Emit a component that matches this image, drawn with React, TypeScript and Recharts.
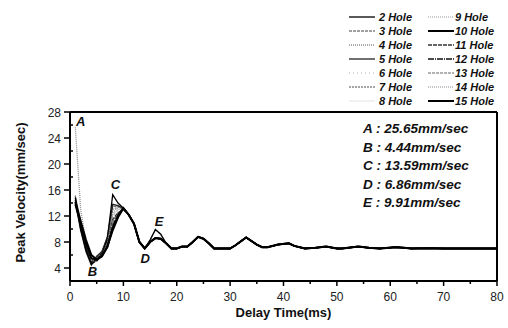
import { LineChart, Line, XAxis, YAxis, ReferenceDot } from 'recharts';

// delay time (ms) sample points
const X_EARLY = [1, 2, 3, 4, 5, 6, 7, 8, 9, 10];
const X_MID = [11, 12, 13, 14, 15, 16, 17];
const X_TAIL = [18, 19, 20, 21, 22, 23, 24, 25, 26, 27, 28, 30, 31, 33, 35, 36, 37, 39, 41, 42, 44, 46, 48, 50, 51, 54, 56, 58, 61, 62, 64, 67, 70, 75, 80];

// peak velocity (mm/sec), first 10 ms per hole count
const H2 = [14.8, 10.0, 6.8, 4.6, 5.2, 6.2, 8.5, 15.3, 14.0, 13.2];
const H3 = [15.0, 10.5, 7.0, 4.8, 5.6, 6.3, 8.0, 13.5, 13.5, 13.1];
const H4 = [25.65, 13.0, 8.0, 5.2, 5.0, 6.0, 7.8, 12.5, 13.3, 13.1];
const H5 = [14.2, 9.8, 6.5, 4.44, 5.8, 6.5, 8.8, 13.8, 13.6, 13.1];
const H6 = [15.2, 11.0, 7.2, 4.9, 5.4, 6.2, 8.2, 12.0, 12.8, 13.0];
const H7 = [14.5, 10.2, 6.9, 4.6, 5.5, 6.4, 8.3, 13.0, 13.4, 13.1];
const H8 = [14.0, 10.0, 6.6, 4.7, 5.6, 6.3, 8.0, 12.0, 12.9, 13.0];
const H9 = [15.0, 11.2, 7.4, 5.0, 5.2, 6.0, 7.9, 12.2, 13.0, 13.1];
const H10 = [14.2, 11.2, 8.3, 6.0, 5.3, 5.8, 7.3, 9.8, 11.8, 13.2];
const H11 = [14.0, 10.4, 7.0, 4.8, 5.7, 6.6, 8.6, 11.5, 12.5, 13.0];
const H12 = [14.5, 10.6, 7.2, 5.0, 5.3, 6.0, 7.6, 10.5, 12.2, 13.1];
const H13 = [14.8, 10.8, 7.5, 5.2, 5.2, 5.9, 7.5, 11.0, 12.4, 13.1];
const H14 = [15.1, 11.3, 7.8, 5.4, 5.1, 5.8, 7.4, 11.2, 12.5, 13.0];
const H15 = [13.8, 10.8, 7.8, 5.5, 5.2, 5.9, 7.2, 10.2, 12.0, 13.2];

// 11..17 ms: common shape, and the one with the E peak
const MID_BASE = [12.2, 10.8, 8.0, 7.0, 8.0, 8.6, 8.5];
const MID_E = [12.2, 10.8, 8.0, 7.0, 8.3, 9.91, 9.2];

// 18..80 ms, shared by all
const TAIL = [7.8, 7.0, 7.0, 7.3, 7.3, 8.0, 8.8, 8.5, 7.8, 7.0, 7.0, 7.0, 7.5, 8.7, 7.6, 7.2, 7.2, 7.6, 7.8, 7.4, 7.0, 7.1, 7.3, 7.0, 7.0, 7.3, 7.1, 7.0, 7.2, 7.15, 7.0, 7.05, 7.0, 7.0, 7.0];

const NOTES = ['A : 25.65mm/sec', 'B : 4.44mm/sec', 'C : 13.59mm/sec', 'D : 6.86mm/sec', 'E : 9.91mm/sec'];
const MARKS = [
  { id: 'A', x: 2.0, y: 26.6 },
  { id: 'B', x: 4.2, y: 3.45 },
  { id: 'C', x: 8.5, y: 16.8 },
  { id: 'D', x: 14.1, y: 5.5 },
  { id: 'E', x: 16.7, y: 11.2 },
];

const X_TICKS = [0, 5, 10, 15, 20, 25, 30, 35, 40, 45, 50, 55, 60, 65, 70, 75, 80];
const Y_TICKS = [2, 4, 6, 8, 10, 12, 14, 16, 18, 20, 22, 24, 26, 28];

const SERIES = [
  { name: '2 Hole', early: H2, mid: MID_E, stroke: '#000', w: 1.3, dash: undefined },
  { name: '3 Hole', early: H3, mid: MID_BASE, stroke: '#444', w: 1.2, dash: '3 1' },
  { name: '4 Hole', early: H4, mid: MID_BASE, stroke: '#8c8c8c', w: 1.3, dash: '1 1' },
  { name: '5 Hole', early: H5, mid: MID_BASE, stroke: '#222', w: 1.3, dash: undefined },
  { name: '6 Hole', early: H6, mid: MID_BASE, stroke: '#aaa', w: 1, dash: '1 3' },
  { name: '7 Hole', early: H7, mid: MID_E, stroke: '#888', w: 1.3, dash: '2 1' },
  { name: '8 Hole', early: H8, mid: MID_BASE, stroke: '#e4e4e4', w: 1, dash: undefined },
  { name: '9 Hole', early: H9, mid: MID_BASE, stroke: '#999', w: 1, dash: '1 1' },
  { name: '10 Hole', early: H10, mid: MID_BASE, stroke: '#000', w: 2, dash: undefined },
  { name: '11 Hole', early: H11, mid: MID_BASE, stroke: '#333', w: 1.3, dash: '4 1' },
  { name: '12 Hole', early: H12, mid: MID_BASE, stroke: '#111', w: 1.3, dash: '6 1 1 1' },
  { name: '13 Hole', early: H13, mid: MID_BASE, stroke: '#666', w: 1.2, dash: '3 1' },
  { name: '14 Hole', early: H14, mid: MID_BASE, stroke: '#888', w: 1.2, dash: '1 1' },
  { name: '15 Hole', early: H15, mid: MID_BASE, stroke: '#000', w: 2, dash: undefined },
];

// light lines first, heavy black ones on top
const DRAW_ORDER = [6, 4, 7, 12, 5, 11, 1, 10, 3, 9, 0, 2, 13, 8];

function buildData(early: number[], mid: number[]) {
  return [
    ...X_EARLY.map((x, i) => ({ x, y: early[i] })),
    ...X_MID.map((x, i) => ({ x, y: mid[i] })),
    ...X_TAIL.map((x, i) => ({ x, y: TAIL[i] })),
  ];
}

const FONT = '"Liberation Sans", Arial, sans-serif';
const AXIS_LINE = { stroke: '#000', strokeWidth: 2 };

function BottomTick({ x, y, payload }: any) {
  const v = payload.value;
  const major = v % 10 === 0;
  return (
    <g>
      <line x1={x} x2={x} y1={y} y2={y + (major ? 5 : 3)} stroke="#000" strokeWidth={1.5} />
      {major && (
        <text x={x} y={y + 19.5} textAnchor="middle" fontSize={12} fill="#222">{v}</text>
      )}
    </g>
  );
}

function TopTick({ x, y, payload }: any) {
  const major = payload.value % 10 === 0;
  return <line x1={x} x2={x} y1={y} y2={y + (major ? 5 : 3)} stroke="#000" strokeWidth={1.5} />;
}

function LeftTick({ x, y, payload }: any) {
  const v = payload.value;
  const major = v % 4 === 0;
  return (
    <g>
      {major
        ? <line x1={x - 6} x2={x} y1={y} y2={y} stroke="#000" strokeWidth={1.5} />
        : <line x1={x} x2={x + 3} y1={y} y2={y} stroke="#000" strokeWidth={1.5} />}
      {major && (
        <text x={x - 9} y={y + 4.5} textAnchor="end" fontSize={12} fill="#222">{v}</text>
      )}
    </g>
  );
}

function RightTick({ x, y, payload }: any) {
  const major = payload.value % 4 === 0;
  return <line x1={x - (major ? 6 : 3)} x2={x} y1={y} y2={y} stroke="#000" strokeWidth={1.5} />;
}

function YTitle({ viewBox }: any) {
  const cy = viewBox.y + viewBox.height / 2 - 4;
  return (
    <text x={20} y={cy} transform={`rotate(-90 20 ${cy})`} textAnchor="middle" dominantBaseline="central"
      fontWeight="bold" fontSize={13} fill="#111">
      Peak Velocity(mm/sec)
    </text>
  );
}

function HoleLegend() {
  return (
    <svg width={508} height={110} style={{ position: 'absolute', left: 0, top: 0, fontFamily: FONT }}>
      {SERIES.map((s, i) => {
        const col = i < 7 ? 0 : 1;
        const row = i % 7;
        const y = 17 + row * 14;
        const x1 = col ? 428 : 349;
        return (
          <g key={s.name}>
            <line x1={x1} x2={x1 + 26} y1={y} y2={y} stroke={s.stroke} strokeWidth={s.w}
              strokeDasharray={s.dash} />
            <text x={x1 + (col ? 27 : 30)} y={y + 4} fontSize={11} fontWeight="bold" fontStyle="italic" fill="#111">
              {s.name}
            </text>
          </g>
        );
      })}
    </svg>
  );
}

export default function App() {
  return (
    <div style={{ position: 'absolute', left: 0, top: 0, width: 508, height: 328, background: '#fff', fontFamily: FONT }}>
      <LineChart width={508} height={328} margin={{ top: 111, right: 10, bottom: 0, left: 0 }} style={{ fontFamily: FONT }}>
        <XAxis type="number" dataKey="x" domain={[0, 80]} ticks={X_TICKS} interval={0}
          height={47} tickSize={0} tickMargin={0} tickLine={false}
          axisLine={AXIS_LINE} tick={<BottomTick />}
          label={{ value: 'Delay Time(ms)', position: 'insideBottom', offset: 11, fontSize: 13, fontWeight: 'bold', fill: '#111' }} />
        <XAxis xAxisId="top" orientation="top" type="number" domain={[0, 80]} ticks={X_TICKS} interval={0}
          height={1} tickSize={0} tickMargin={0} tickLine={false}
          axisLine={AXIS_LINE} tick={<TopTick />} />
        <YAxis type="number" domain={[2, 28]} ticks={Y_TICKS} interval={0} width={70}
          tickSize={0} tickMargin={0} tickLine={false}
          axisLine={AXIS_LINE} tick={<LeftTick />}
          label={{ content: <YTitle /> }} />
        <YAxis yAxisId="right" orientation="right" type="number" domain={[2, 28]} ticks={Y_TICKS} interval={0} width={1}
          tickSize={0} tickMargin={0} tickLine={false}
          axisLine={AXIS_LINE} tick={<RightTick />} />
        {DRAW_ORDER.map(i => {
          const s = SERIES[i];
          return (
            <Line key={s.name} data={buildData(s.early, s.mid)} dataKey="y" type="linear"
              stroke={s.stroke} strokeWidth={s.w} strokeDasharray={s.dash}
              dot={false} activeDot={false} isAnimationActive={false} />
          );
        })}
        {MARKS.map(m => (
          <ReferenceDot key={m.id} x={m.x} y={m.y} r={0} stroke="none" fill="none"
            label={{ value: m.id, position: 'center', fontSize: 13, fontWeight: 'bold', fontStyle: 'italic', fill: '#111' }} />
        ))}
      </LineChart>
      <HoleLegend />
      <div style={{ position: 'absolute', left: 363, top: 120, fontSize: 13.5, fontWeight: 'bold', fontStyle: 'italic', lineHeight: '18.6px', color: '#111' }}>
        {NOTES.map(n => <div key={n}>{n}</div>)}
      </div>
    </div>
  );
}
